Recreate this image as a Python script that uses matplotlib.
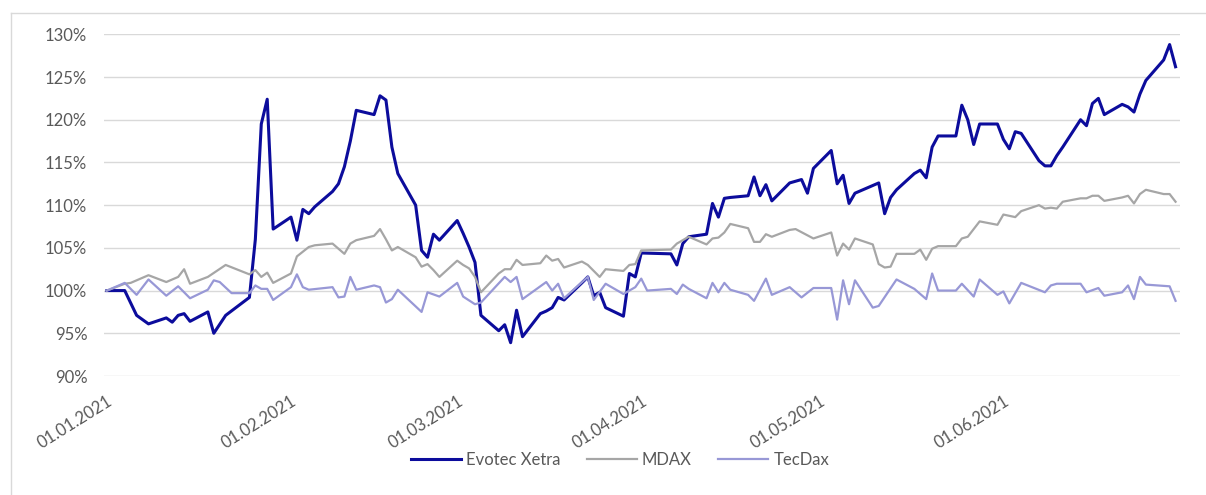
import matplotlib

matplotlib.use("Agg")

import matplotlib.dates as mdates
import matplotlib.pyplot as plt
import pandas as pd
from matplotlib.lines import Line2D
from matplotlib.ticker import FuncFormatter, MultipleLocator

plt.rcParams["font.family"] = ["Lato", "DejaVu Sans"]

YEAR = "2021"

# Evotec Xetra, performance relative to 01.01.2021 (in %)
EVOTEC_DATES = [
    "01-01", "01-04", "01-06", "01-08", "01-11", "01-12", "01-13", "01-14", "01-15", "01-18",
    "01-19", "01-21", "01-25", "01-26", "01-27", "01-28", "01-29", "02-01", "02-02", "02-03",
    "02-04", "02-05", "02-08", "02-09", "02-10", "02-11", "02-12", "02-15", "02-16", "02-17",
    "02-18", "02-19", "02-22", "02-23", "02-24", "02-25", "02-26", "03-01", "03-02", "03-03",
    "03-04", "03-05", "03-08", "03-09", "03-10", "03-11", "03-12", "03-15", "03-16", "03-17",
    "03-18", "03-19", "03-22", "03-23", "03-24", "03-25", "03-26", "03-29", "03-30", "03-31",
    "04-01", "04-06", "04-07", "04-08", "04-09", "04-12", "04-13", "04-14", "04-15", "04-16",
    "04-19", "04-20", "04-21", "04-22", "04-23", "04-26", "04-27", "04-28", "04-29", "04-30",
    "05-03", "05-04", "05-05", "05-06", "05-07", "05-10", "05-11", "05-12", "05-13", "05-14",
    "05-17", "05-18", "05-19", "05-20", "05-21", "05-24", "05-25", "05-26", "05-27", "05-28",
    "05-31", "06-01", "06-02", "06-03", "06-04", "06-07", "06-08", "06-09", "06-10", "06-11",
    "06-14", "06-15", "06-16", "06-17", "06-18", "06-21", "06-22", "06-23", "06-24", "06-25",
    "06-28", "06-29", "06-30",
]
EVOTEC_VALUES = [
    100.0, 100.0, 97.1, 96.1, 96.8, 96.3, 97.1, 97.3, 96.4, 97.5,
    95.0, 97.1, 99.2, 106.0, 119.5, 122.4, 107.2, 108.6, 105.9, 109.5,
    109.0, 109.8, 111.6, 112.5, 114.5, 117.5, 121.1, 120.6, 122.8, 122.3,
    116.8, 113.7, 110.0, 104.7, 103.9, 106.6, 105.9, 108.2, 106.7, 105.1,
    103.3, 97.1, 95.3, 96.0, 93.9, 97.7, 94.6, 97.3, 97.6, 98.0,
    99.2, 98.9, 100.9, 101.6, 99.4, 99.8, 98.0, 97.0, 102.0, 101.6,
    104.4, 104.3, 103.0, 105.5, 106.3, 106.6, 110.2, 108.6, 110.8, 110.9,
    111.1, 113.3, 111.1, 112.4, 110.5, 112.6, 112.8, 113.0, 111.4, 114.3,
    116.4, 112.5, 113.5, 110.2, 111.4, 112.3, 112.6, 109.0, 110.9, 111.8,
    113.7, 114.1, 113.2, 116.8, 118.1, 118.1, 121.7, 120.0, 117.1, 119.5,
    119.5, 117.7, 116.6, 118.6, 118.4, 115.2, 114.6, 114.6, 115.8, 116.8,
    120.0, 119.3, 121.9, 122.5, 120.6, 121.8, 121.5, 120.9, 123.0, 124.6,
    127.0, 128.8, 126.2,
]

MDAX_DATES = [
    "01-01", "01-04", "01-05", "01-06", "01-08", "01-11", "01-13", "01-14", "01-15", "01-18",
    "01-21", "01-25", "01-26", "01-27", "01-28", "01-29", "02-01", "02-02", "02-04", "02-05",
    "02-08", "02-09", "02-10", "02-11", "02-12", "02-15", "02-16", "02-17", "02-18", "02-19",
    "02-22", "02-23", "02-24", "02-25", "02-26", "03-01", "03-02", "03-03", "03-04", "03-05",
    "03-08", "03-09", "03-10", "03-11", "03-12", "03-15", "03-16", "03-17", "03-18", "03-19",
    "03-22", "03-23", "03-25", "03-26", "03-29", "03-30", "03-31", "04-01", "04-06", "04-07",
    "04-08", "04-09", "04-12", "04-13", "04-14", "04-15", "04-16", "04-19", "04-20", "04-21",
    "04-22", "04-23", "04-26", "04-27", "04-30", "05-03", "05-04", "05-05", "05-06", "05-07",
    "05-10", "05-11", "05-12", "05-13", "05-14", "05-17", "05-18", "05-19", "05-20", "05-21",
    "05-24", "05-25", "05-26", "05-28", "05-31", "06-01", "06-03", "06-04", "06-07", "06-08",
    "06-09", "06-10", "06-11", "06-14", "06-15", "06-16", "06-17", "06-18", "06-21", "06-22",
    "06-23", "06-24", "06-25", "06-28", "06-29", "06-30",
]
MDAX_VALUES = [
    100.0, 100.8, 100.9, 101.2, 101.8, 101.0, 101.6, 102.5, 100.8, 101.6,
    103.0, 101.9, 102.4, 101.6, 102.1, 100.9, 102.0, 104.0, 105.1, 105.3,
    105.5, 104.9, 104.3, 105.5, 105.9, 106.4, 107.2, 106.0, 104.7, 105.1,
    103.9, 102.8, 103.1, 102.4, 101.6, 103.5, 103.0, 102.6, 101.6, 99.8,
    102.0, 102.5, 102.5, 103.6, 103.0, 103.2, 104.1, 103.5, 103.7, 102.7,
    103.4, 103.0, 101.6, 102.5, 102.3, 103.0, 103.1, 104.7, 104.8, 105.5,
    105.9, 106.3, 105.4, 106.1, 106.2, 106.8, 107.8, 107.3, 105.7, 105.7,
    106.6, 106.3, 107.1, 107.2, 106.1, 106.8, 104.1, 105.5, 104.8, 106.1,
    105.4, 103.1, 102.7, 102.8, 104.3, 104.3, 104.8, 103.6, 104.9, 105.2,
    105.2, 106.1, 106.3, 108.1, 107.7, 108.9, 108.6, 109.3, 110.0, 109.6,
    109.7, 109.6, 110.4, 110.8, 110.8, 111.1, 111.1, 110.5, 110.9, 111.1,
    110.2, 111.3, 111.8, 111.3, 111.3, 110.4,
]

TECDAX_DATES = [
    "01-01", "01-04", "01-05", "01-06", "01-08", "01-11", "01-13", "01-15", "01-18", "01-19",
    "01-20", "01-22", "01-25", "01-26", "01-27", "01-28", "01-29", "02-01", "02-02", "02-03",
    "02-04", "02-08", "02-09", "02-10", "02-11", "02-12", "02-15", "02-16", "02-17", "02-18",
    "02-19", "02-23", "02-24", "02-26", "03-01", "03-02", "03-04", "03-05", "03-09", "03-10",
    "03-11", "03-12", "03-16", "03-17", "03-18", "03-19", "03-23", "03-24", "03-26", "03-29",
    "03-31", "04-01", "04-02", "04-06", "04-07", "04-08", "04-09", "04-12", "04-13", "04-14",
    "04-15", "04-16", "04-19", "04-20", "04-22", "04-23", "04-26", "04-28", "04-30", "05-03",
    "05-04", "05-05", "05-06", "05-07", "05-10", "05-11", "05-14", "05-17", "05-19", "05-20",
    "05-21", "05-24", "05-25", "05-27", "05-28", "05-31", "06-01", "06-02", "06-04", "06-08",
    "06-09", "06-10", "06-14", "06-15", "06-17", "06-18", "06-21", "06-22", "06-23", "06-24",
    "06-25", "06-29", "06-30",
]
TECDAX_VALUES = [
    100.0, 100.9, 100.2, 99.5, 101.3, 99.4, 100.5, 99.1, 100.1, 101.2,
    101.0, 99.7, 99.7, 100.6, 100.2, 100.2, 98.9, 100.4, 101.9, 100.4,
    100.1, 100.4, 99.2, 99.3, 101.6, 100.1, 100.6, 100.4, 98.6, 99.0,
    100.1, 97.5, 99.8, 99.3, 100.9, 99.3, 98.4, 98.6, 101.6, 101.0,
    101.6, 99.0, 101.0, 100.0, 100.8, 99.1, 101.6, 98.9, 100.8, 99.6,
    100.4, 101.4, 100.0, 100.2, 99.6, 100.7, 100.2, 99.1, 100.9, 99.8,
    100.9, 100.1, 99.5, 98.8, 101.4, 99.5, 100.4, 99.2, 100.3, 100.3,
    96.6, 101.2, 98.4, 101.2, 98.0, 98.2, 101.3, 100.2, 99.0, 102.0,
    100.0, 100.0, 100.8, 99.3, 101.3, 99.5, 99.9, 98.5, 100.9, 99.8,
    100.6, 100.8, 100.8, 99.8, 100.3, 99.4, 99.8, 100.6, 99.0, 101.6,
    100.7, 100.5, 98.8,
]

SERIES = [
    ("Evotec Xetra", EVOTEC_DATES, EVOTEC_VALUES, "#0c0c9c", 2.2),
    ("MDAX", MDAX_DATES, MDAX_VALUES, "#a6a6a6", 1.6),
    ("TecDax", TECDAX_DATES, TECDAX_VALUES, "#9898d6", 1.6),
]

TEXT_COLOR = "#595959"
GRID_COLOR = "#d9d9d9"


def to_dates(days):
    return pd.to_datetime([f"{YEAR}-{d}" for d in days])


def main() -> None:
    fig = plt.figure(figsize=(12.06, 4.95), dpi=100)
    ax = fig.add_axes([0.0862, 0.2404, 0.892, 0.6903])

    for name, days, values, color, lw in SERIES:
        ax.plot(to_dates(days), values, color=color, linewidth=lw, label=name,
                solid_joinstyle="round", zorder=3)

    start = pd.Timestamp(f"{YEAR}-01-01")
    ax.set_xlim(start - pd.Timedelta(hours=12), start + pd.Timedelta(days=180.7))
    ax.set_ylim(90, 130)

    ax.yaxis.set_major_locator(MultipleLocator(5))
    ax.yaxis.set_major_formatter(FuncFormatter(lambda v, _: f"{v:.0f}%"))
    ax.xaxis.set_major_locator(mdates.MonthLocator())
    ax.xaxis.set_major_formatter(mdates.DateFormatter("%d.%m.%Y"))

    ax.grid(axis="y", color=GRID_COLOR, linewidth=1.0)
    ax.set_axisbelow(True)
    for spine in ax.spines.values():
        spine.set_visible(False)

    ax.tick_params(axis="y", length=0, pad=12, labelsize=12, labelcolor=TEXT_COLOR)
    ax.tick_params(axis="x", length=0, pad=12, labelsize=12, labelcolor=TEXT_COLOR)
    for label in ax.get_xticklabels():
        label.set_rotation(32)
        label.set_ha("right")
        label.set_va("top")
        label.set_rotation_mode("anchor")

    fig.legend(loc="center", bbox_to_anchor=(0.514, 0.071), ncol=3, frameon=False,
               fontsize=12, labelcolor=TEXT_COLOR, handlelength=3.0,
               handletextpad=0.3, columnspacing=1.6)

    # chart-area frame: only its top and left edges are inside the picture
    left, top = 11 / 1206, 1 - 13 / 495
    fig.add_artist(Line2D([left, 1.0], [top, top], transform=fig.transFigure,
                          color=GRID_COLOR, linewidth=1.0))
    fig.add_artist(Line2D([left, left], [0.0, top], transform=fig.transFigure,
                          color=GRID_COLOR, linewidth=1.0))

    fig.savefig("out.png", dpi=100)
    plt.close(fig)


if __name__ == "__main__":
    main()
